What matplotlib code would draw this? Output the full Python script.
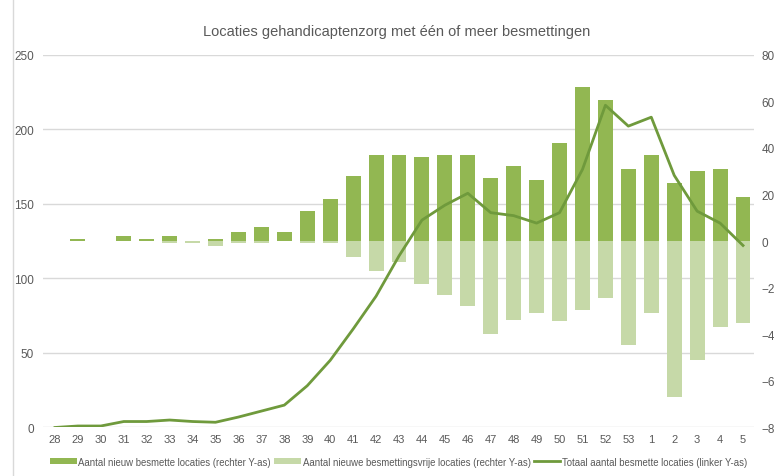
import matplotlib

matplotlib.use("Agg")
import matplotlib.pyplot as plt
import matplotlib.transforms as mtransforms
import numpy as np

plt.rcParams["font.family"] = ["Liberation Sans", "DejaVu Sans"]

weeks = ["28", "29", "30", "31", "32", "33", "34", "35", "36", "37", "38", "39", "40",
         "41", "42", "43", "44", "45", "46", "47", "48", "49", "50", "51", "52", "53",
         "1", "2", "3", "4", "5"]
# new infected locations (right axis)
new_infected = [0, 1, 0, 2, 1, 2, 0, 1, 4, 6, 4, 13, 18, 28, 37, 37, 36, 37, 37,
                27, 32, 26, 42, 66, 60.5, 31, 37, 25, 30, 31, 19]
# newly infection-free locations (right axis, negative)
new_free = [0, 0, 0, 0, 0, -1, -1, -2, -1, -1, 0, -1, -1, -7, -13, -9, -18.5, -23,
            -28, -40, -34, -31, -34.5, -29.5, -24.5, -44.5, -31, -67, -51, -37, -35]
# total infected locations (left axis)
total_infected = [0, 1, 1, 4, 4, 5, 4, 3.5, 7, 11, 15, 28, 45, 66, 88, 115, 139, 149,
                  157, 144, 142, 137, 144, 173, 216, 202, 208, 169, 145, 137, 122]

left_ticks = [0, 50, 100, 150, 200, 250]
right_ticks = [-80, -60, -40, -20, 0, 20, 40, 60, 80]

DARK = "#92b752"
LIGHT = "#c6d9a8"
LINE = "#6f9a3c"
TXT = "#595959"
GRID = "#d9d9d9"

x = np.arange(len(weeks))

fig = plt.figure(figsize=(7.74, 4.77), dpi=100)
ax = fig.add_axes([0.0562, 0.1017, 0.9186, 0.7819])
ax2 = ax.twinx()
ax.set_zorder(ax2.get_zorder() + 1)
ax.patch.set_visible(False)

# gridlines follow the left axis but sit behind the bars
blend = mtransforms.blended_transform_factory(ax2.transAxes, ax.transData)
for t in left_ticks:
    ax2.plot([0, 1], [t, t], color=GRID, lw=1.0, transform=blend, zorder=0)

ax2.bar(x, new_infected, width=0.65, color=DARK, zorder=2,
        label="Aantal nieuw besmette locaties (rechter Y-as)")
ax2.bar(x, new_free, width=0.65, color=LIGHT, zorder=2,
        label="Aantal nieuwe besmettingsvrije locaties (rechter Y-as)")
ax.plot(x, total_infected, color=LINE, lw=2.0, zorder=3,
        label="Totaal aantal besmette locaties (linker Y-as)")

ax.set_xlim(-0.5, len(weeks) - 0.5)
ax.set_ylim(0, 250)
ax2.set_ylim(-80, 80)
ax.set_yticks(left_ticks)
ax2.set_yticks(right_ticks)
ax.set_xticks(x)
ax.set_xticklabels(weeks)

for a in (ax, ax2):
    for s in a.spines.values():
        s.set_visible(False)
ax.tick_params(axis="y", length=0, pad=7, labelsize=8.5, labelcolor=TXT)
ax.tick_params(axis="x", length=0, pad=5, labelsize=8, labelcolor=TXT)
ax2.tick_params(axis="y", length=0, pad=5, labelsize=8.5, labelcolor=TXT)

fig.text(0.513, 0.933, "Locaties gehandicaptenzorg met één of meer besmettingen",
         ha="center", va="center", fontsize=10.5, color=TXT)

h2, l2 = ax2.get_legend_handles_labels()
h1, l1 = ax.get_legend_handles_labels()
leg = fig.legend(h2 + h1, l2 + l1, loc="center", bbox_to_anchor=(0.515, 0.03),
                 ncol=3, frameon=False, handlelength=2.8,
                 handleheight=0.6, columnspacing=0.3, handletextpad=0.2,
                 fontsize=6.9)
for t in leg.get_texts():
    t.set_color(TXT)

fig.add_artist(plt.Line2D([0.017, 0.017], [0.0, 1.0], color=GRID, lw=1.0,
                          transform=fig.transFigure))

fig.savefig("out.png", dpi=100)
